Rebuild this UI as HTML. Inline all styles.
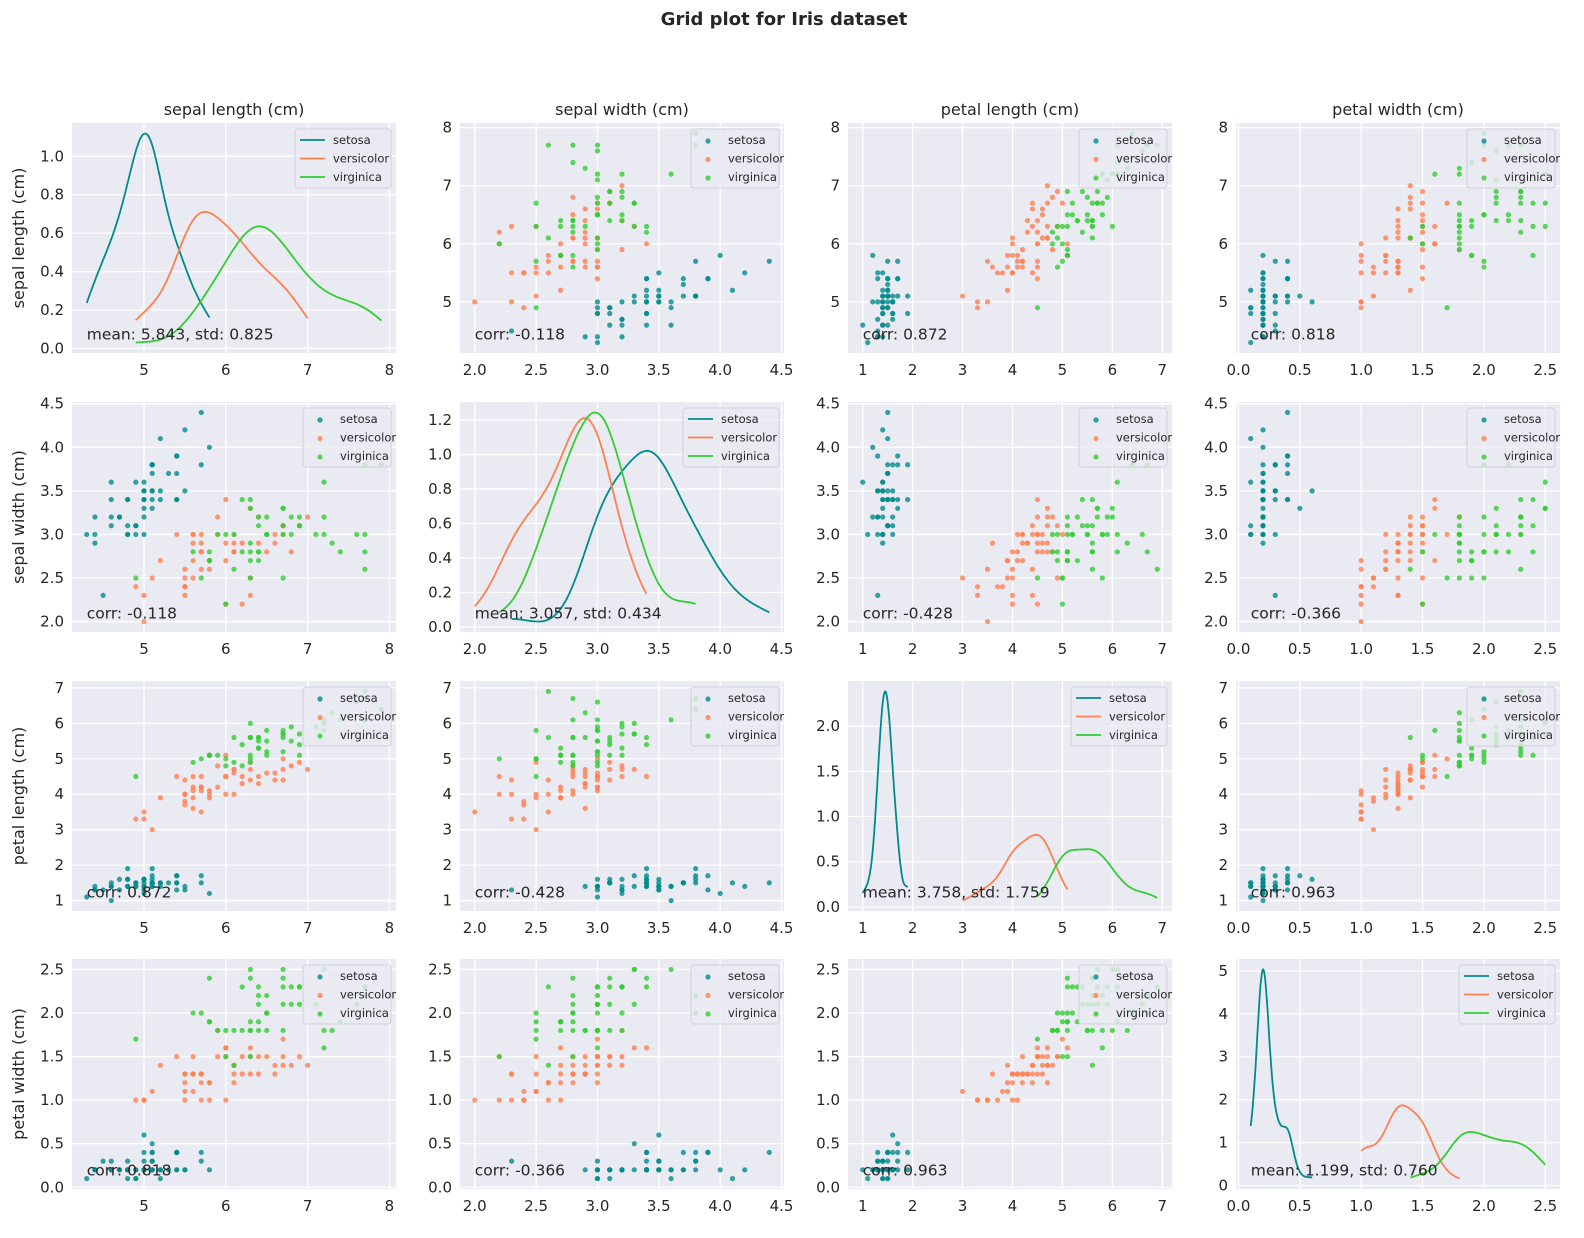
<!DOCTYPE html>
<html><head><meta charset="utf-8"><style>
html,body{margin:0;padding:0;overflow:hidden;width:1584px;height:1238px;background:#fff;font-family:"Liberation Sans","DejaVu Sans",sans-serif;}
svg{display:block;}
svg text{font-family:"DejaVu Sans","Liberation Sans",sans-serif;fill:#262626;}
</style></head><body>
<svg id="fig" width="1584" height="1238" viewBox="0 0 1584 1238" xmlns="http://www.w3.org/2000/svg">
<text x="784" y="25" text-anchor="middle" font-size="18" font-weight="bold">Grid plot for Iris dataset</text>
</svg>
<script>
const featureNames = ["sepal length (cm)","sepal width (cm)","petal length (cm)","petal width (cm)"];
const speciesNames = ["setosa","versicolor","virginica"];
const speciesColors = ["#008b8b","#ff7f50","#32cd32"];
const setosa = [
[5.1,3.5,1.4,0.2],[4.9,3.0,1.4,0.2],[4.7,3.2,1.3,0.2],[4.6,3.1,1.5,0.2],[5.0,3.6,1.4,0.2],
[5.4,3.9,1.7,0.4],[4.6,3.4,1.4,0.3],[5.0,3.4,1.5,0.2],[4.4,2.9,1.4,0.2],[4.9,3.1,1.5,0.1],
[5.4,3.7,1.5,0.2],[4.8,3.4,1.6,0.2],[4.8,3.0,1.4,0.1],[4.3,3.0,1.1,0.1],[5.8,4.0,1.2,0.2],
[5.7,4.4,1.5,0.4],[5.4,3.9,1.3,0.4],[5.1,3.5,1.4,0.3],[5.7,3.8,1.7,0.3],[5.1,3.8,1.5,0.3],
[5.4,3.4,1.7,0.2],[5.1,3.7,1.5,0.4],[4.6,3.6,1.0,0.2],[5.1,3.3,1.7,0.5],[4.8,3.4,1.9,0.2],
[5.0,3.0,1.6,0.2],[5.0,3.4,1.6,0.4],[5.2,3.5,1.5,0.2],[5.2,3.4,1.4,0.2],[4.7,3.2,1.6,0.2],
[4.8,3.1,1.6,0.2],[5.4,3.4,1.5,0.4],[5.2,4.1,1.5,0.1],[5.5,4.2,1.4,0.2],[4.9,3.1,1.5,0.2],
[5.0,3.2,1.2,0.2],[5.5,3.5,1.3,0.2],[4.9,3.6,1.4,0.1],[4.4,3.0,1.3,0.2],[5.1,3.4,1.5,0.2],
[5.0,3.5,1.3,0.3],[4.5,2.3,1.3,0.3],[4.4,3.2,1.3,0.2],[5.0,3.5,1.6,0.6],[5.1,3.8,1.9,0.4],
[4.8,3.0,1.4,0.3],[5.1,3.8,1.6,0.2],[4.6,3.2,1.4,0.2],[5.3,3.7,1.5,0.2],[5.0,3.3,1.4,0.2]];
const versicolor = [
[7.0,3.2,4.7,1.4],[6.4,3.2,4.5,1.5],[6.9,3.1,4.9,1.5],[5.5,2.3,4.0,1.3],[6.5,2.8,4.6,1.5],
[5.7,2.8,4.5,1.3],[6.3,3.3,4.7,1.6],[4.9,2.4,3.3,1.0],[6.6,2.9,4.6,1.3],[5.2,2.7,3.9,1.4],
[5.0,2.0,3.5,1.0],[5.9,3.0,4.2,1.5],[6.0,2.2,4.0,1.0],[6.1,2.9,4.7,1.4],[5.6,2.9,3.6,1.3],
[6.7,3.1,4.4,1.4],[5.6,3.0,4.5,1.5],[5.8,2.7,4.1,1.0],[6.2,2.2,4.5,1.5],[5.6,2.5,3.9,1.1],
[5.9,3.2,4.8,1.8],[6.1,2.8,4.0,1.3],[6.3,2.5,4.9,1.5],[6.1,2.8,4.7,1.2],[6.4,2.9,4.3,1.3],
[6.6,3.0,4.4,1.4],[6.8,2.8,4.8,1.4],[6.7,3.0,5.0,1.7],[6.0,2.9,4.5,1.5],[5.7,2.6,3.5,1.0],
[5.5,2.4,3.8,1.1],[5.5,2.4,3.7,1.0],[5.8,2.7,3.9,1.2],[6.0,2.7,5.1,1.6],[5.4,3.0,4.5,1.5],
[6.0,3.4,4.5,1.6],[6.7,3.1,4.7,1.5],[6.3,2.3,4.4,1.3],[5.6,3.0,4.1,1.3],[5.5,2.5,4.0,1.3],
[5.5,2.6,4.4,1.2],[6.1,3.0,4.6,1.4],[5.8,2.6,4.0,1.2],[5.0,2.3,3.3,1.0],[5.6,2.7,4.2,1.3],
[5.7,3.0,4.2,1.2],[5.7,2.9,4.2,1.3],[6.2,2.9,4.3,1.3],[5.1,2.5,3.0,1.1],[5.7,2.8,4.1,1.3]];
const virginica = [
[6.3,3.3,6.0,2.5],[5.8,2.7,5.1,1.9],[7.1,3.0,5.9,2.1],[6.3,2.9,5.6,1.8],[6.5,3.0,5.8,2.2],
[7.6,3.0,6.6,2.1],[4.9,2.5,4.5,1.7],[7.3,2.9,6.3,1.8],[6.7,2.5,5.8,1.8],[7.2,3.6,6.1,2.5],
[6.5,3.2,5.1,2.0],[6.4,2.7,5.3,1.9],[6.8,3.0,5.5,2.1],[5.7,2.5,5.0,2.0],[5.8,2.8,5.1,2.4],
[6.4,3.2,5.3,2.3],[6.5,3.0,5.5,1.8],[7.7,3.8,6.7,2.2],[7.7,2.6,6.9,2.3],[6.0,2.2,5.0,1.5],
[6.9,3.2,5.7,2.3],[5.6,2.8,4.9,2.0],[7.7,2.8,6.7,2.0],[6.3,2.7,4.9,1.8],[6.7,3.3,5.7,2.1],
[7.2,3.2,6.0,1.8],[6.2,2.8,4.8,1.8],[6.1,3.0,4.9,1.8],[6.4,2.8,5.6,2.1],[7.2,3.0,5.8,1.6],
[7.4,2.8,6.1,1.9],[7.9,3.8,6.4,2.0],[6.4,2.8,5.6,2.2],[6.3,2.8,5.1,1.5],[6.1,2.6,5.6,1.4],
[7.7,3.0,6.1,2.3],[6.3,3.4,5.6,2.4],[6.4,3.1,5.5,1.8],[6.0,3.0,4.8,1.8],[6.9,3.1,5.4,2.1],
[6.7,3.1,5.6,2.4],[6.9,3.1,5.1,2.3],[5.8,2.7,5.1,1.9],[6.8,3.2,5.9,2.3],[6.7,3.3,5.7,2.5],
[6.7,3.0,5.2,2.3],[6.3,2.5,5.0,1.9],[6.5,3.0,5.2,2.0],[6.2,3.4,5.4,2.3],[5.9,3.0,5.1,1.8]];
const featureTicks = [[5,6,7,8],[2.0,2.5,3.0,3.5,4.0,4.5],[1,2,3,4,5,6,7],[0.0,0.5,1.0,1.5,2.0,2.5]];
const featureTickLabels = [["5","6","7","8"],["2.0","2.5","3.0","3.5","4.0","4.5"],["1","2","3","4","5","6","7"],["0.0","0.5","1.0","1.5","2.0","2.5"]];
const kdeTicks = [[0,0.2,0.4,0.6,0.8,1.0],[0,0.2,0.4,0.6,0.8,1.0,1.2],[0,0.5,1.0,1.5,2.0],[0,1,2,3,4,5]];
const kdeTickLabels = [["0.0","0.2","0.4","0.6","0.8","1.0"],["0.0","0.2","0.4","0.6","0.8","1.0","1.2"],["0.0","0.5","1.0","1.5","2.0"],["0","1","2","3","4","5"]];

const NS="http://www.w3.org/2000/svg";
const svg=document.getElementById('fig');
const groups=[setosa,versicolor,virginica];
const all=setosa.concat(versicolor,virginica);
const colLeft=[72,460,848,1236], rowTop=[123,402,681,959], AW=324, AH=230;
function mk(tag,attrs,parent){const e=document.createElementNS(NS,tag);for(const k in attrs)e.setAttribute(k,attrs[k]);(parent||svg).appendChild(e);return e;}
function col(f){return all.map(r=>r[f]);}
function range(arr){const mn=Math.min(...arr),mx=Math.max(...arr),p=(mx-mn)*0.05;return [mn-p,mx+p,mn,mx];}
function mean(a){return a.reduce((s,v)=>s+v,0)/a.length;}
function std(a,dd){const m=mean(a);return Math.sqrt(a.reduce((s,v)=>s+(v-m)*(v-m),0)/(a.length-dd));}
function corr(a,b){const ma=mean(a),mb=mean(b);let s=0,sa=0,sb=0;for(let i=0;i<a.length;i++){s+=(a[i]-ma)*(b[i]-mb);sa+=(a[i]-ma)**2;sb+=(b[i]-mb)**2;}return s/Math.sqrt(sa*sb);}
function kde(vals){const n=vals.length,bw=std(vals,1)*Math.pow(n,-0.2);const mn=Math.min(...vals),mx=Math.max(...vals);const xs=[],ys=[];for(let i=0;i<100;i++){const x=mn+(mx-mn)*i/99;let s=0;for(const v of vals)s+=Math.exp(-0.5*((x-v)/bw)**2);xs.push(x);ys.push(s/(n*bw*Math.sqrt(2*Math.PI)));}return [xs,ys];}

for(let r=0;r<4;r++){for(let c=0;c<4;c++){
  const L=colLeft[c],T=rowTop[r];
  const g=mk('g',{});
  
  
  const bg=mk('rect',{x:L,y:T,width:AW,height:AH,fill:'#eaeaf2'},g);
  
  
  const xr=range(col(c));
  const px=v=>L+(v-xr[0])/(xr[1]-xr[0])*AW;
  let yr,yt,ytl,curves=null;
  if(r===c){curves=groups.map(gr=>kde(gr.map(x=>x[c])));let mn=Infinity,mx=-Infinity;curves.forEach(k=>k[1].forEach(v=>{mn=Math.min(mn,v);mx=Math.max(mx,v);}));const p=(mx-mn)*0.05;yr=[mn-p,mx+p,mn,mx];yt=kdeTicks[c];ytl=kdeTickLabels[c];}
  else{yr=range(col(r));yt=featureTicks[r];ytl=featureTickLabels[r];}
  const py=v=>T+AH-(v-yr[0])/(yr[1]-yr[0])*AH;
  featureTicks[c].forEach((t,i)=>{const x=px(t);if(x<L-0.5||x>L+AW+0.5)return;
    const gl=mk('line',{x1:x,x2:x,y1:T,y2:T+AH,stroke:'#fff','stroke-width':1.3},g);
    
    const tx=mk('text',{x:x,y:T+AH+22,'text-anchor':'middle','font-size':15},g);tx.textContent=featureTickLabels[c][i];
    });
  yt.forEach((t,i)=>{const y=py(t);if(y<T-0.5||y>T+AH+0.5)return;
    const gl=mk('line',{x1:L,x2:L+AW,y1:y,y2:y,stroke:'#fff','stroke-width':1.3},g);
    
    const tx=mk('text',{x:L-8,y:y+5,'text-anchor':'end','font-size':15},g);tx.textContent=ytl[i];
    });
  if(curves){
    curves.forEach((k,s)=>{const d=k[0].map((x,i)=>(i?'L':'M')+px(x).toFixed(1)+','+py(k[1][i]).toFixed(1)).join('');
      const p=mk('path',{d:d,fill:'none',stroke:speciesColors[s],'stroke-width':1.8},g);
      });
  } else {
    groups.forEach((gr,s)=>gr.forEach(row=>{const ci=mk('circle',{cx:px(row[c]),cy:py(row[r]),r:2.6,fill:speciesColors[s],'fill-opacity':0.8},g);
      }));
  }
  const lg=mk('g',{},g);
  
  const lw=curves?96:88,lx=L+AW-5-lw,ly=T+6;
  mk('rect',{x:lx,y:ly,width:lw,height:59,rx:3,fill:'#eaeaf2','fill-opacity':0.8,stroke:'#d0d0d8','stroke-width':1},lg);
  speciesNames.forEach((nm,s)=>{const yy=ly+11+s*18.5;
    const e=mk('g',{},lg);
    if(curves)mk('line',{x1:lx+5,x2:lx+30,y1:yy,y2:yy,stroke:speciesColors[s],'stroke-width':1.8},e);
    else mk('circle',{cx:lx+17,cy:yy+1,r:2.6,fill:speciesColors[s],'fill-opacity':0.8},e);
    const t=mk('text',{x:lx+(curves?38:37),y:yy+4,'font-size':11.5},e);t.textContent=nm;});
  let txt;
  if(curves){const v=col(c);txt='mean: '+mean(v).toFixed(3)+', std: '+std(v,0).toFixed(3);}
  else txt='corr: '+corr(col(c),col(r)).toFixed(3);
  const an=mk('text',{x:px(xr[2]),y:py(yr[2])-3,'font-size':15.5},g);an.textContent=txt;
  
  if(r===0){const t=mk('text',{x:L+AW/2,y:T-8,'text-anchor':'middle','font-size':16},g);t.textContent=featureNames[c];
    }
  if(c===0){const t=mk('text',{x:0,y:0,'text-anchor':'middle','font-size':16,transform:'translate(24,'+(T+AH/2)+') rotate(-90)'},g);t.textContent=featureNames[r];
    }
}}
</script>
</body></html>
